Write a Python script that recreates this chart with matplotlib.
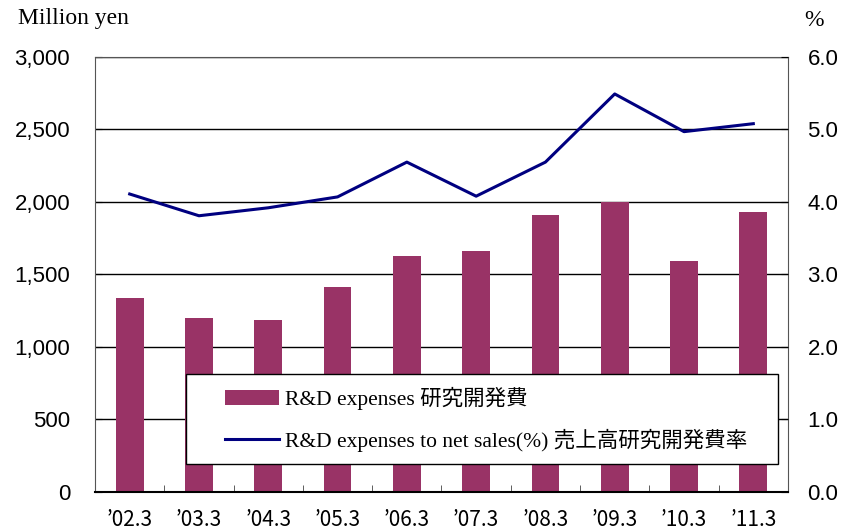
import matplotlib
matplotlib.use("Agg")
import matplotlib.pyplot as plt
import numpy as np
from matplotlib.patches import Patch, Rectangle
from matplotlib.lines import Line2D

categories = ["’02.3", "’03.3", "’04.3", "’05.3", "’06.3", "’07.3", "’08.3", "’09.3", "’10.3", "’11.3"]
rd_expenses = [1338, 1200, 1186, 1414, 1628, 1662, 1910, 2000, 1593, 1931]
rd_ratio = [4.11, 3.81, 3.92, 4.07, 4.55, 4.08, 4.55, 5.49, 4.97, 5.08]
left_ticks = [0, 500, 1000, 1500, 2000, 2500, 3000]
right_ticks = [0.0, 1.0, 2.0, 3.0, 4.0, 5.0, 6.0]

bar_color = "#993366"
line_color = "#000080"
num_font = "Liberation Sans"
serif_fam = ["Liberation Serif", "Noto Sans CJK JP"]

fig = plt.figure(figsize=(8.44, 5.32), dpi=100)
ax = fig.add_axes([0.1126, 0.0752, 0.8210, 0.8177])
x = np.arange(len(categories))

ax.set_axisbelow(True)
ax.bar(x, rd_expenses, width=0.4, color=bar_color, zorder=2)
ax.set_xlim(-0.5, len(categories) - 0.5)
ax.set_ylim(0, 3000)
ax.set_yticks(left_ticks)
ax.set_yticklabels([f"{v:,}" for v in left_ticks], fontfamily=num_font, fontsize=16)
ax.yaxis.grid(True, color="black", linewidth=1.0)
ax.tick_params(axis="y", direction="in", length=5, pad=18)
ax.set_xticks(x)
ax.set_xticklabels(categories, fontfamily=["Noto Sans CJK JP"], fontsize=15)
ax.tick_params(axis="x", length=0, pad=12)
ax.set_xticks(np.arange(-0.5, len(categories), 1.0), minor=True)
ax.tick_params(axis="x", which="minor", direction="in", length=5, color="#444444")
for s in ["left", "right", "top"]:
    ax.spines[s].set_color("#555555")
ax.spines["bottom"].set_linewidth(1.5)

ax2 = ax.twinx()
ax2.plot(x, rd_ratio, color=line_color, linewidth=2.2, zorder=3)
ax2.set_ylim(0, 6)
ax2.set_yticks(right_ticks)
ax2.set_yticklabels([f"{v:.1f}" for v in right_ticks], fontfamily=num_font, fontsize=16)
ax2.tick_params(axis="y", direction="in", length=5, pad=14)
for s in ["left", "right", "top", "bottom"]:
    ax2.spines[s].set_visible(False)

fig.text(0.021, 0.965, "Million yen", fontfamily="Liberation Serif", fontsize=17, va="center", ha="left")
fig.text(0.953, 0.962, "%", fontfamily="Liberation Serif", fontsize=17, va="center", ha="left")

# legend frame
frame = Rectangle((0.131, 0.064), 0.855, 0.207, transform=ax2.transAxes,
                  facecolor="white", edgecolor="black", linewidth=1.0, zorder=9)
ax2.add_patch(frame)

handles = [Patch(facecolor=bar_color, edgecolor="none"),
           Line2D([0], [0], color=line_color, linewidth=2.2)]
labels = ["R&D expenses 研究開発費", "R&D expenses to net sales(%) 売上高研究開発費率"]
leg = ax2.legend(handles, labels, loc="upper left",
                 bbox_to_anchor=((225 - 95) / 693, (492 - 387) / 435),
                 prop={"family": serif_fam, "size": 15.5}, frameon=False,
                 borderpad=0, labelspacing=0.85, handlelength=2.5,
                 handletextpad=0.3, borderaxespad=0)
leg.set_zorder(10)

fig.savefig("out.png", dpi=100)
